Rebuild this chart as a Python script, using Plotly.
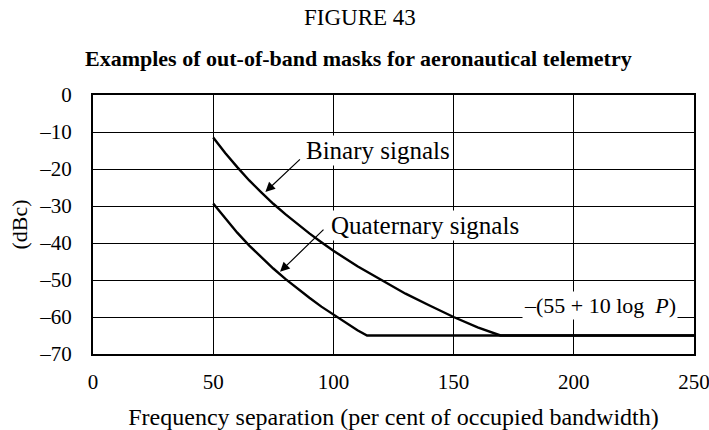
import plotly.graph_objects as go

# Out-of-band mask curves (dBc vs. frequency separation in % of occupied bandwidth)
binary_x = [50, 55, 60, 65, 70, 75, 80, 85, 90, 95, 100, 110, 120, 130, 140, 150, 160, 169.5, 250]
binary_y = [-11.5, -15.7, -19.5, -23.1, -26.3, -29.4, -32.2, -34.9, -37.4, -39.8, -42.1,
            -46.3, -50.1, -53.7, -56.9, -60.0, -62.8, -65.0, -65.0]

quaternary_x = [50, 55, 60, 65, 70, 75, 80, 85, 90, 95, 100, 105, 110, 114, 250]
quaternary_y = [-29.3, -33.4, -37.2, -40.7, -43.9, -46.9, -49.7, -52.3, -54.8, -57.2,
                -59.4, -61.5, -63.6, -65.0, -65.0]

x_ticks = [0, 50, 100, 150, 200, 250]
y_ticks = [0, -10, -20, -30, -40, -50, -60, -70]
y_tick_text = ["0", "–10", "–20", "–30", "–40", "–50", "–60", "–70"]

SERIF = "Liberation Serif, Times New Roman, serif"
W, H = 709, 430
M_L, M_R, M_T, M_B = 93, 15, 95, 76


def paper_y(px):
    """Convert a pixel row (from the top of the page) to paper y coordinates."""
    return (H - M_B - px) / (H - M_T - M_B)


def paper_x(px):
    """Convert a pixel column (from the left of the page) to paper x coordinates."""
    return (px - M_L) / (W - M_L - M_R)


fig = go.Figure()
fig.add_trace(go.Scatter(x=binary_x, y=binary_y, mode="lines",
                         line=dict(color="black", width=2.4), hoverinfo="skip"))
fig.add_trace(go.Scatter(x=quaternary_x, y=quaternary_y, mode="lines",
                         line=dict(color="black", width=2.4), hoverinfo="skip"))

annotations = [
    dict(text="FIGURE 43", x=paper_x(360), y=paper_y(18), xref="paper", yref="paper",
         showarrow=False, font=dict(size=23, family=SERIF, color="black"),
         xanchor="center", yanchor="middle"),
    dict(text="<b>Examples of out-of-band masks for aeronautical telemetry</b>",
         x=paper_x(358), y=paper_y(58), xref="paper", yref="paper", showarrow=False,
         font=dict(size=22, family=SERIF, color="black"), xanchor="center", yanchor="middle"),
    # curve labels
    dict(text="Binary signals", x=87.8, y=-15.1, xref="x", yref="y", showarrow=False,
         xanchor="left", yanchor="middle", bgcolor="white",
         font=dict(size=25, family=SERIF, color="black")),
    dict(text="Quaternary signals", x=98.0, y=-35.3, xref="x", yref="y", showarrow=False,
         xanchor="left", yanchor="middle", bgcolor="white",
         font=dict(size=25, family=SERIF, color="black")),
    dict(text="–(55 + 10 log  <i>P</i>)", x=178.5, y=-57.0, xref="x", yref="y", showarrow=False,
         xanchor="left", yanchor="middle", bgcolor="white",
         font=dict(size=22, family=SERIF, color="black")),
    # arrows pointing at the curves
    dict(text="", x=71.7, y=-26.2, ax=86.7, ay=-17.0, xref="x", yref="y", axref="x", ayref="y",
         showarrow=True, arrowhead=2, arrowsize=1.6, arrowwidth=1.2, arrowcolor="black"),
    dict(text="", x=77.8, y=-47.8, ax=96.5, ay=-36.0, xref="x", yref="y", axref="x", ayref="y",
         showarrow=True, arrowhead=2, arrowsize=1.6, arrowwidth=1.2, arrowcolor="black"),
]

fig.update_layout(
    width=W, height=H,
    margin=dict(l=M_L, r=M_R, t=M_T, b=M_B, autoexpand=False),
    paper_bgcolor="white", plot_bgcolor="white",
    showlegend=False,
    font=dict(family=SERIF, size=21, color="black"),
    annotations=annotations,
    xaxis=dict(range=[0, 250], tickvals=x_ticks, showgrid=True, gridcolor="black", gridwidth=1.3,
               zeroline=False, showline=True, linecolor="black", linewidth=2.2, mirror=True,
               ticks="", ticklabelstandoff=8, ticklabeloverflow="allow", automargin=False,
               tickfont=dict(size=21, family=SERIF),
               title=dict(text="Frequency separation (per cent of occupied bandwidth)",
                          font=dict(size=24, family=SERIF), standoff=16)),
    yaxis=dict(range=[-70, 0], tickvals=y_ticks, ticktext=y_tick_text, showgrid=True,
               gridcolor="black", gridwidth=1.3, zeroline=False, showline=True,
               linecolor="black", linewidth=2.2, mirror=True, ticks="", automargin=False,
               ticklabelstandoff=15, tickfont=dict(size=21, family=SERIF),
               title=dict(text="(dBc)", font=dict(size=22, family=SERIF), standoff=6)),
)

fig.write_html("out.html")
